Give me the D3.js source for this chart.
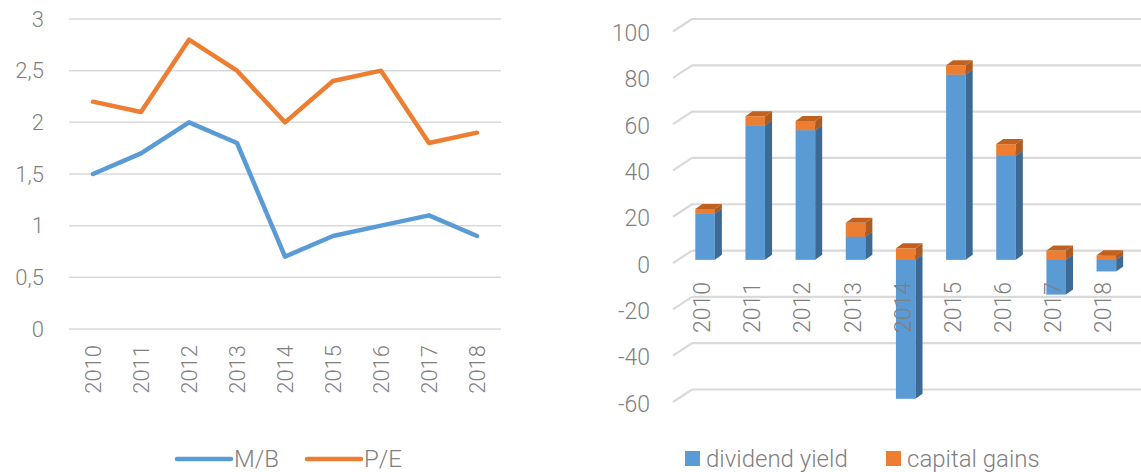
<!DOCTYPE html>
<html lang="en">
<head>
    <meta charset="UTF-8">
    <title></title>
    <script src="https://cdn.jsdelivr.net/npm/d3@7"></script>
    <style>
        body { margin: 0; background: #fff; }
        text { font-family: Roboto, "Open Sans", sans-serif; font-weight: 300; fill: #7f7f7f; }
    </style>
</head>
<body>
<script type="text/javascript">

var w = 1141;
var h = 472;

// data
var years = ["2010", "2011", "2012", "2013", "2014", "2015", "2016", "2017", "2018"];
var mb = [1.5, 1.7, 2.0, 1.8, 0.7, 0.9, 1.0, 1.1, 0.9];
var pe = [2.2, 2.1, 2.8, 2.5, 2.0, 2.4, 2.5, 1.8, 1.9];
var leftTicks = [0, 0.5, 1, 1.5, 2, 2.5, 3];
var leftTickLabels = ["0", "0,5", "1", "1,5", "2", "2,5", "3"];

var dividendYield = [20, 58, 56, 10, -60, 80, 45, -15, -5];
var capitalGains = [2, 4, 4, 6, 5, 4, 5, 4, 2];
var rightTicks = [-60, -40, -20, 0, 20, 40, 60, 80, 100];

var blue = "#5b9bd5", orange = "#ed7d31";
var grid = "#d9d9d9";

var svg = d3.select("body")
    .append("svg")
    .attr("width", w)
    .attr("height", h);

// ---------- left chart: lines ----------
var xL = d3.scaleBand().domain(years).range([69, 501]);
var yL = d3.scaleLinear().domain([0, 3]).range([329, 19]);
var cx = function(d) { return xL(d) + xL.bandwidth() / 2; };

var left = svg.append("g");

left.selectAll("line.grid")
    .data(leftTicks)
    .enter()
    .append("line")
    .attr("x1", 69)
    .attr("x2", 501)
    .attr("y1", function(d) { return yL(d); })
    .attr("y2", function(d) { return yL(d); })
    .attr("stroke", grid)
    .attr("stroke-width", 1.5);

left.selectAll("text.ytick")
    .data(leftTicks)
    .enter()
    .append("text")
    .attr("x", 44)
    .attr("y", function(d) { return yL(d); })
    .attr("dy", "0.35em")
    .attr("text-anchor", "end")
    .attr("font-size", "22px")
    .text(function(d, i) { return leftTickLabels[i]; });

left.selectAll("text.xtick")
    .data(years)
    .enter()
    .append("text")
    .attr("transform", function(d) { return "translate(" + cx(d) + ",345) rotate(-90)"; })
    .attr("dy", "0.35em")
    .attr("text-anchor", "end")
    .attr("font-size", "22px")
    .text(function(d) { return d; });

var line = d3.line()
    .x(function(d, i) { return cx(years[i]); })
    .y(function(d) { return yL(d); });

[[mb, blue], [pe, orange]].forEach(function(s) {
    left.append("path")
        .datum(s[0])
        .attr("d", line)
        .attr("fill", "none")
        .attr("stroke", s[1])
        .attr("stroke-width", 4.5)
        .attr("stroke-linecap", "round")
        .attr("stroke-linejoin", "round");
});

// legend left
var legL = [["M/B", blue, 177], ["P/E", orange, 307]];
legL.forEach(function(l) {
    svg.append("line")
        .attr("x1", l[2]).attr("x2", l[2] + 54)
        .attr("y1", 459).attr("y2", 459)
        .attr("stroke", l[1])
        .attr("stroke-width", 4.5)
        .attr("stroke-linecap", "round");
    svg.append("text")
        .attr("x", l[2] + 57)
        .attr("y", 459)
        .attr("dy", "0.35em")
        .attr("font-size", "24px")
        .text(l[0]);
});

// ---------- right chart: 3d stacked bars ----------
var xR = d3.scaleBand().domain(years).range([680, 680 + 9 * 50.16]);
var yB = d3.scaleLinear().domain([-60, 100]).range([389.5, 19]);   // back wall
var yF = function(v) { return yB(v) + 9.3; };                      // bar front plane
var barW = 19.6, dx = 7, dy = -5;

var right = svg.append("g");

right.selectAll("line.gridback")
    .data(rightTicks)
    .enter()
    .append("line")
    .attr("x1", 692)
    .attr("x2", w)
    .attr("y1", function(d) { return yB(d); })
    .attr("y2", function(d) { return yB(d); })
    .attr("stroke", grid)
    .attr("stroke-width", 2.2);

right.selectAll("line.gridside")
    .data(rightTicks)
    .enter()
    .append("line")
    .attr("x1", 673)
    .attr("x2", 692)
    .attr("y1", function(d) { return yB(d) + 12.5; })
    .attr("y2", function(d) { return yB(d); })
    .attr("stroke", grid)
    .attr("stroke-width", 2.2);

right.selectAll("text.ytick")
    .data(rightTicks)
    .enter()
    .append("text")
    .attr("x", 650)
    .attr("y", function(d) { return yB(d) + 14; })
    .attr("dy", "0.35em")
    .attr("text-anchor", "end")
    .attr("font-size", "23px")
    .text(function(d) { return d; });

var table = years.map(function(y, i) {
    return {year: y, div: dividendYield[i], cap: capitalGains[i]};
});
var series = d3.stack()
    .keys(["div", "cap"])
    .offset(d3.stackOffsetDiverging)(table);

var faces = {
    div: {front: blue, side: "#3c6a94", top: "#4a86bd"},
    cap: {front: orange, side: "#ae5a21", top: "#c0611f"}
};

years.forEach(function(yr, i) {
    var x0 = xR(yr) + xR.bandwidth() / 2 - barW / 2;
    var x1 = x0 + barW;
    var g = right.append("g");
    series.forEach(function(s) {
        var seg = s[i];
        var top = yF(Math.max(seg[0], seg[1]));
        var bot = yF(Math.min(seg[0], seg[1]));
        if (bot - top < 0.1) return;
        var c = faces[s.key];
        g.append("rect")
            .attr("x", x0).attr("y", top)
            .attr("width", barW).attr("height", bot - top)
            .attr("fill", c.front);
        g.append("polygon")
            .attr("points", [[x1, top], [x1 + dx, top + dy], [x1 + dx, bot + dy], [x1, bot]].join(" "))
            .attr("fill", c.side);
        g.append("polygon")
            .attr("points", [[x0, top], [x0 + dx, top + dy], [x1 + dx, top + dy], [x1, top]].join(" "))
            .attr("fill", c.top);
    });
});

right.selectAll("text.xtick")
    .data(years)
    .enter()
    .append("text")
    .attr("transform", function(d) { return "translate(" + (xR(d) + xR.bandwidth() / 2 - 3) + ",282) rotate(-90)"; })
    .attr("dy", "0.35em")
    .attr("text-anchor", "end")
    .attr("font-size", "23px")
    .text(function(d) { return d; });

// legend right
var legR = [["dividend yield", blue, 685], ["capital gains", orange, 886]];
legR.forEach(function(l) {
    svg.append("rect")
        .attr("x", l[2]).attr("y", 451)
        .attr("width", 15).attr("height", 15)
        .attr("fill", l[1]);
    svg.append("text")
        .attr("x", l[2] + 21)
        .attr("y", 459)
        .attr("dy", "0.35em")
        .attr("font-size", "24px")
        .text(l[0]);
});

</script>
</body>
</html>
